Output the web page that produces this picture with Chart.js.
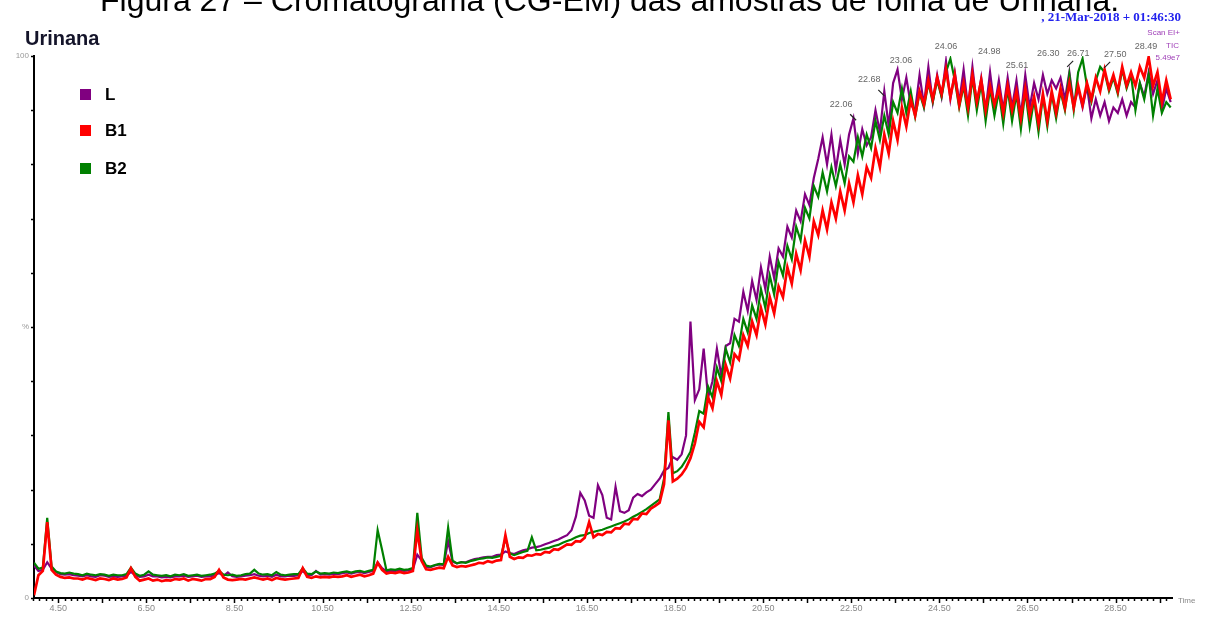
<!DOCTYPE html>
<html>
<head>
<meta charset="utf-8">
<script src="https://cdn.jsdelivr.net/npm/chart.js@4.4.1/dist/chart.umd.min.js"></script>
<style>
  html, body { margin: 0; padding: 0; background: #fff; overflow: hidden; }
</style>
</head>
<body>
<canvas id="tic" width="1208" height="617"></canvas>
<script>
// scan grid of the chromatogram (minutes)
const startTime = 3.95;
const scanStep = 0.1;

// L (purple), % of 5.49e7
const L = [
  6.0, 5.0, 5.2, 6.6, 5.4, 4.8, 4.4, 4.3, 4.4, 4.2,
  4.1, 4.0, 4.2, 4.0, 3.9, 4.2, 4.1, 3.9, 4.0, 3.9,
  4.0, 4.1, 4.8, 4.2, 3.9, 4.0, 4.3, 4.0, 4.0, 3.8,
  3.9, 3.8, 4.0, 4.0, 4.1, 3.9, 4.0, 4.1, 3.9, 4.0,
  4.0, 4.2, 4.6, 4.1, 4.7, 4.0, 3.9, 4.0, 4.1, 4.2,
  4.4, 4.1, 4.0, 4.1, 3.9, 4.3, 4.0, 4.0, 4.1, 4.1,
  4.2, 5.0, 4.2, 4.2, 5.0, 4.3, 4.4, 4.3, 4.5, 4.4,
  4.6, 4.7, 4.5, 4.7, 4.8, 4.6, 4.8, 5.0, 6.6, 5.5,
  4.9, 5.0, 5.0, 5.1, 5.0, 5.1, 5.3, 8.0, 6.9, 5.7,
  5.7, 6.0, 6.2, 6.1, 10.5, 6.7, 6.4, 6.6, 6.6, 6.9,
  7.2, 7.3, 7.5, 7.6, 7.6, 7.9, 8.0, 8.6, 8.3, 8.1,
  8.5, 8.8, 9.0, 9.3, 9.4, 9.6, 9.9, 10.2, 10.5, 10.8,
  11.2, 11.6, 12.5, 15.0, 19.4, 18.0, 15.2, 14.8, 20.8, 19.0,
  14.8, 14.5, 20.5, 16.0, 15.7, 16.2, 18.5, 19.2, 18.8, 19.5,
  20.0, 21.0, 22.0, 23.5, 24.0, 26.0, 25.5, 26.5, 30.0, 51.0,
  36.5, 38.5, 46.0, 37.0, 40.0, 46.0, 41.0, 46.5, 47.0, 51.5,
  51.0, 56.5, 53.0, 58.5, 55.0, 61.0, 57.0, 63.0, 59.0, 64.5,
  63.0, 68.5, 66.5, 71.5, 69.5, 74.5, 72.5, 77.5, 81.0, 85.0,
  80.0, 85.5, 79.0, 84.5, 80.0, 85.5, 88.5, 82.0, 86.5, 83.5,
  85.0, 90.0, 86.0, 93.5, 87.0, 95.0, 97.5, 92.0, 96.0, 91.0,
  90.0, 96.5, 91.0, 98.0, 91.5, 96.5, 92.5, 99.0, 92.0, 97.0,
  91.5, 97.5, 90.5, 98.0, 91.0, 96.0, 90.0, 97.0, 90.5, 95.5,
  90.0, 96.0, 90.5, 95.5, 89.0, 96.5, 90.5, 95.0, 92.0, 96.5,
  93.0, 95.5, 94.0, 96.0, 92.0, 97.0, 91.0, 94.0, 90.5, 94.5,
  88.5, 92.0, 89.0, 91.5, 88.0, 90.5, 89.5, 92.0, 89.0, 91.5,
  90.5, 95.0, 92.5, 97.0, 93.0, 95.5, 90.0, 94.0, 91.5
];

// B1 (red)
const B1 = [
  0.5, 4.2, 5.0, 14.0, 5.2, 4.3, 3.9, 3.7, 3.8, 3.6,
  3.6, 3.4, 3.7, 3.5, 3.3, 3.6, 3.5, 3.3, 3.6, 3.4,
  3.5, 3.8, 5.5, 3.9, 3.2, 3.4, 3.6, 3.2, 3.4, 3.1,
  3.3, 3.2, 3.5, 3.4, 3.6, 3.2, 3.5, 3.4, 3.2, 3.5,
  3.5, 3.9, 5.2, 3.8, 3.4, 3.3, 3.4, 3.5, 3.4, 3.6,
  3.8, 3.6, 3.4, 3.6, 3.3, 3.7, 3.5, 3.4, 3.5, 3.6,
  3.7, 5.5, 3.9, 3.7, 4.0, 3.8, 3.9, 3.8, 4.0, 3.9,
  4.0, 4.2, 3.9, 4.1, 4.3, 4.0, 4.2, 4.5, 6.5, 5.2,
  4.5, 4.7, 4.6, 4.8, 4.6, 4.7, 5.0, 12.5, 6.8, 5.3,
  5.2, 5.4, 5.6, 5.5, 7.6, 6.0, 5.7, 5.9, 5.8, 6.0,
  6.2, 6.5, 6.4, 6.8, 6.6, 6.9, 7.0, 11.6, 7.6, 7.2,
  7.5, 7.4, 7.9, 7.8, 8.1, 8.0, 8.5, 8.4, 9.0, 8.9,
  9.4, 9.9, 9.8, 10.5, 10.4, 11.1, 14.0, 11.2, 11.8, 11.6,
  12.2, 12.1, 12.9, 12.8, 13.7, 13.6, 14.6, 14.5, 15.6, 15.5,
  16.5, 17.0, 17.6, 21.0, 32.8, 21.5, 22.0, 22.8, 24.0, 25.8,
  28.5, 32.5, 31.5, 37.0, 35.0, 40.0, 37.5, 43.0, 40.5, 45.0,
  44.0, 48.5, 46.5, 51.0, 48.5, 53.5, 50.5, 55.5, 52.5, 57.5,
  55.5, 61.0, 58.0, 63.5, 60.5, 66.0, 63.0, 69.5, 67.0, 71.5,
  68.0, 73.0, 70.0, 75.0, 71.5, 76.5, 73.0, 78.0, 74.5, 79.5,
  77.5, 83.0, 79.5, 85.5, 82.0, 88.0, 84.5, 90.5, 87.0, 92.0,
  89.0, 93.5, 91.0, 95.5, 92.0, 96.0, 93.0, 97.5, 92.5, 96.5,
  91.0, 95.0, 90.5, 96.5, 91.5, 95.5, 90.0, 94.5, 91.0, 94.0,
  89.5, 94.5, 90.0, 93.5, 88.5, 94.0, 89.0, 92.5, 87.5, 93.0,
  88.0, 93.5, 89.5, 94.0, 90.5, 95.0, 90.5, 94.5, 91.0, 95.0,
  92.0, 96.0, 93.5, 97.5, 94.0, 96.5, 93.5, 98.0, 94.5, 97.0,
  94.5, 98.0, 96.0, 99.8, 94.5, 97.0, 91.5, 95.5, 92.0
];

// B2 (green)
const B2 = [
  6.5, 5.4, 5.6, 14.8, 5.8, 4.9, 4.6, 4.5, 4.7, 4.5,
  4.4, 4.2, 4.5, 4.3, 4.2, 4.4, 4.3, 4.1, 4.3, 4.2,
  4.2, 4.4, 5.6, 4.5, 4.1, 4.3, 4.9, 4.3, 4.2, 4.1,
  4.2, 4.0, 4.3, 4.2, 4.4, 4.1, 4.2, 4.3, 4.1, 4.2,
  4.3, 4.5, 5.0, 4.3, 4.2, 4.3, 4.1, 4.2, 4.4, 4.5,
  5.2, 4.5, 4.3, 4.4, 4.2, 4.8, 4.3, 4.2, 4.3, 4.4,
  4.4, 5.5, 4.5, 4.4, 4.9, 4.5, 4.6, 4.5, 4.7, 4.6,
  4.8, 4.9, 4.7, 4.9, 5.0, 4.8, 5.0, 5.2, 12.5, 8.9,
  5.1, 5.3, 5.2, 5.4, 5.2, 5.3, 5.5, 15.7, 7.4, 6.0,
  5.8, 6.1, 6.3, 6.2, 13.0, 6.9, 6.4, 6.6, 6.5, 6.8,
  7.0, 7.2, 7.3, 7.5, 7.4, 7.6, 7.8, 11.0, 8.2, 7.9,
  8.2, 8.5, 8.7, 11.2, 8.8, 8.9, 9.1, 9.3, 9.6, 9.8,
  10.2, 10.5, 10.8, 11.2, 11.5, 11.6, 12.0, 12.2, 12.4, 12.6,
  12.9, 13.2, 13.5, 13.8, 14.1, 14.5, 15.0, 15.4, 15.9, 16.4,
  17.0, 17.6, 18.2, 22.0, 34.3, 23.0, 23.4, 24.2, 25.5, 27.0,
  30.5, 34.5, 34.0, 39.0, 37.0, 42.5, 40.0, 46.0, 43.5, 48.5,
  46.5, 51.5, 49.0, 54.0, 51.5, 57.0, 53.5, 59.5, 56.0, 62.0,
  59.5, 65.0, 62.5, 68.5, 66.0, 72.0, 70.0, 76.0, 74.0, 78.5,
  75.0, 79.5, 76.0, 80.0, 76.5, 81.5, 80.5, 85.0, 81.5, 85.5,
  83.0, 88.0, 84.5, 89.0, 85.5, 91.5, 89.5, 94.0, 89.5, 93.5,
  88.8, 93.2, 90.5, 95.0, 91.5, 95.5, 92.5, 97.0, 99.5, 95.5,
  90.5, 94.5, 89.0, 96.0, 90.0, 95.0, 88.0, 94.0, 89.0, 93.5,
  87.5, 94.0, 88.0, 93.0, 86.5, 93.5, 87.0, 92.0, 86.0, 92.5,
  87.0, 93.0, 88.5, 93.5, 90.0, 96.5, 90.0, 97.0, 99.5, 94.5,
  91.5, 95.5, 98.0, 97.0, 93.5, 96.0, 93.0, 97.5, 94.0, 96.5,
  90.0, 95.0, 92.0, 96.5, 89.0, 94.0, 89.5, 91.5, 90.5
];

// axis tick labels
const timeTicks = [4.5, 6.5, 8.5, 10.5, 12.5, 14.5, 16.5, 18.5, 20.5, 22.5, 24.5, 26.5, 28.5];
const pctTicks = [0, 50, 100];

// peak annotations: text, where it sits (time, %)
const peakText = ['22.06', '22.68', '23.06', '24.06', '24.98', '25.61', '26.30', '26.71', '27.50', '28.49'];
const peakTime = [22.27, 22.91, 23.63, 24.65, 25.63, 26.26, 26.97, 27.65, 28.49, 29.19];
const peakPct  = [91.1, 95.6, 99.1, 101.7, 100.9, 98.3, 100.4, 100.4, 100.2, 101.8];
const leaderSide = [1, 1, 0, 0, 0, 0, 0, -1, -1, 0];

const times = L.map((v, i) => +(startTime + i * scanStep).toFixed(2));
const pts = arr => arr.map((v, i) => ({ x: times[i], y: v }));

const sans = '"Liberation Sans", Arial, sans-serif';

const decorations = {
  id: 'decorations',
  afterDraw(chart) {
    const ctx = chart.ctx;
    const xs = chart.scales.x, ys = chart.scales.y;
    const area = chart.chartArea;
    ctx.save();

    // caption, cut at the top of the picture
    const caption = 'Figura 27 – Cromatograma (CG-EM) das amostras de folha de Urinana.';
    ctx.font = '26px ' + sans;
    const w = ctx.measureText(caption).width;
    ctx.font = (26 * 1018 / w).toFixed(1) + 'px ' + sans;
    ctx.fillStyle = '#000';
    ctx.textAlign = 'left';
    ctx.textBaseline = 'alphabetic';
    ctx.fillText(caption, 100, 11);

    // sample name
    ctx.font = 'bold 20px ' + sans;
    ctx.fillStyle = '#14142a';
    ctx.textBaseline = 'middle';
    ctx.fillText('Urinana', 25, 39);

    // acquisition header
    ctx.textAlign = 'right';
    ctx.font = 'bold 13px "Liberation Serif", "Times New Roman", serif';
    ctx.fillStyle = '#2222ee';
    ctx.fillText(', 21-Mar-2018 + 01:46:30', 1181, 18);
    ctx.font = '8px ' + sans;
    ctx.fillStyle = '#a040b8';
    ctx.fillText('Scan EI+', 1180, 33);
    ctx.fillText('TIC', 1179, 46);
    ctx.fillText('5.49e7', 1180, 58);

    // legend
    const legendItems = [['L', '#800080'], ['B1', '#ff0000'], ['B2', '#008000']];
    const legendY = [94, 130, 168];
    ctx.textAlign = 'left';
    ctx.font = 'bold 17px ' + sans;
    legendItems.forEach(([name, col], k) => {
      ctx.fillStyle = col;
      ctx.fillRect(80, legendY[k] - 5, 11, 11);
      ctx.fillStyle = '#000';
      ctx.fillText(name, 105, legendY[k] + 1);
    });

    // peak labels
    ctx.font = '9px ' + sans;
    ctx.textAlign = 'center';
    ctx.fillStyle = '#666';
    ctx.strokeStyle = '#222';
    ctx.lineWidth = 1.2;
    peakText.forEach((txt, k) => {
      const px = xs.getPixelForValue(peakTime[k]);
      const py = ys.getPixelForValue(peakPct[k]);
      ctx.fillText(txt, px, py);
      if (leaderSide[k] === 1) {
        ctx.beginPath();
        ctx.moveTo(px + 9, py + 10);
        ctx.lineTo(px + 15, py + 16);
        ctx.stroke();
      } else if (leaderSide[k] === -1) {
        ctx.beginPath();
        ctx.moveTo(px - 11, py + 13);
        ctx.lineTo(px - 5, py + 7);
        ctx.stroke();
      }
    });

    // axis tick marks
    ctx.strokeStyle = '#000';
    ctx.lineWidth = 1.5;
    const minor = 2 / 14;
    for (let t = 4.5 - 4 * minor; t <= xs.max; t += minor) {
      const px = Math.round(xs.getPixelForValue(t)) + 0.5;
      const frac = (((t - 4.5) % 1) + 1) % 1;
      const major = frac < 0.01 || frac > 0.99;
      ctx.beginPath();
      ctx.moveTo(px, area.bottom);
      ctx.lineTo(px, area.bottom + (major ? 5 : 3));
      ctx.stroke();
    }
    for (let v = 0; v <= 100; v += 10) {
      const py = Math.round(ys.getPixelForValue(v)) + 0.5;
      ctx.beginPath();
      ctx.moveTo(area.left - 3, py);
      ctx.lineTo(area.left, py);
      ctx.stroke();
    }

    ctx.font = '8px ' + sans;
    ctx.fillStyle = '#888';
    ctx.textAlign = 'left';
    ctx.textBaseline = 'middle';
    ctx.fillText('Time', area.right + 6, area.bottom + 3);
    ctx.restore();
  }
};

new Chart(document.getElementById('tic'), {
  type: 'line',
  data: {
    datasets: [
      { label: 'L', data: pts(L), borderColor: '#800080', borderWidth: 2.2, order: 2 },
      { label: 'B1', data: pts(B1), borderColor: '#ff0000', borderWidth: 2.7, order: 0 },
      { label: 'B2', data: pts(B2), borderColor: '#008000', borderWidth: 2.2, order: 1 }
    ]
  },
  options: {
    responsive: false,
    animation: false,
    devicePixelRatio: 1,
    layout: { padding: { top: 56, right: 36, left: 0, bottom: 0 } },
    elements: {
      point: { radius: 0 },
      line: { tension: 0, fill: false, borderJoinStyle: 'miter' }
    },
    plugins: {
      legend: { display: false },
      tooltip: { enabled: false },
      title: { display: false }
    },
    scales: {
      x: {
        type: 'linear',
        min: 3.95,
        max: 29.78,
        grid: { display: false, drawTicks: false },
        border: { display: true, color: '#000', width: 2 },
        afterBuildTicks: s => { s.ticks = timeTicks.map(v => ({ value: v })); },
        afterFit: s => { s.height = 19; },
        ticks: {
          autoSkip: false,
          maxRotation: 0,
          padding: 5,
          color: '#888',
          font: { size: 9, family: sans },
          callback: v => v.toFixed(2)
        }
      },
      y: {
        min: 0,
        max: 100,
        grid: { display: false, drawTicks: false },
        border: { display: true, color: '#000', width: 2 },
        afterBuildTicks: s => { s.ticks = pctTicks.map(v => ({ value: v })); },
        afterFit: s => { s.width = 34; },
        ticks: {
          autoSkip: false,
          padding: 5,
          color: '#999',
          font: { size: 8, family: sans },
          callback: v => (v === 50 ? '%' : String(v))
        }
      }
    }
  },
  plugins: [decorations]
});
</script>
</body>
</html>
